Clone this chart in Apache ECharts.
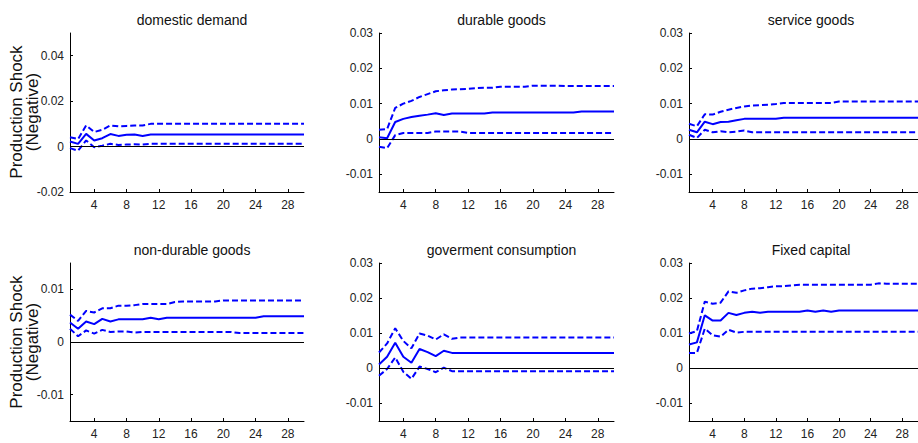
<!DOCTYPE html>
<html><head><meta charset="utf-8">
<script src="https://cdn.jsdelivr.net/npm/echarts@6/dist/echarts.min.js"></script>
<style>html,body{margin:0;padding:0;background:#fff}#c{width:918px;height:443px}</style>
</head><body><div id="c"></div>
<script>
const periods = [1,2,3,4,5,6,7,8,9,10,11,12,13,14,15,16,17,18,19,20,21,22,23,24,25,26,27,28,29,30];
const xTicks = [4,8,12,16,20,24,28];
const titles = ["domestic demand","durable goods","service goods","non-durable goods","goverment consumption","Fixed capital"];
const yLabel = "Production Shock\n(Negative)";

// domestic demand
const ddMid = [0.0022,0.0012,0.0056,0.0027,0.0037,0.0055,0.0047,0.0052,0.0053,0.0047,0.0053,0.0053,0.0053,0.0053,0.0053,0.0053,0.0053,0.0053,0.0053,0.0053,0.0053,0.0053,0.0053,0.0053,0.0053,0.0053,0.0053,0.0053,0.0053,0.0053];
const ddUp  = [0.0041,0.0033,0.0093,0.0064,0.0074,0.0093,0.0089,0.0091,0.0093,0.0093,0.0100,0.0100,0.0100,0.0100,0.0100,0.0100,0.0100,0.0100,0.0100,0.0100,0.0100,0.0100,0.0100,0.0100,0.0100,0.0100,0.0100,0.0100,0.0100,0.0100];
const ddLo  = [-0.0007,-0.0018,0.0027,-0.0003,0.0004,0.0012,0.0007,0.0009,0.0010,0.0009,0.0012,0.0012,0.0012,0.0012,0.0012,0.0012,0.0012,0.0012,0.0012,0.0012,0.0012,0.0012,0.0012,0.0012,0.0012,0.0012,0.0012,0.0012,0.0012,0.0012];
// durable goods
const duMid = [0.0005,0.0002,0.0048,0.0057,0.0062,0.0066,0.0069,0.0073,0.0068,0.0072,0.0072,0.0072,0.0072,0.0072,0.0075,0.0075,0.0075,0.0075,0.0075,0.0075,0.0075,0.0075,0.0075,0.0075,0.0075,0.0078,0.0078,0.0078,0.0078,0.0078];
const duUp  = [0.0026,0.0028,0.0088,0.0100,0.0108,0.0119,0.0127,0.0135,0.0138,0.0140,0.0141,0.0142,0.0144,0.0145,0.0145,0.0148,0.0148,0.0148,0.0148,0.0151,0.0151,0.0151,0.0151,0.0150,0.0150,0.0150,0.0150,0.0150,0.0150,0.0150];
const duLo  = [-0.0022,-0.0026,0.0011,0.0017,0.0017,0.0017,0.0017,0.0021,0.0021,0.0021,0.0021,0.0017,0.0017,0.0017,0.0017,0.0017,0.0017,0.0017,0.0017,0.0017,0.0017,0.0017,0.0017,0.0017,0.0017,0.0017,0.0017,0.0017,0.0017,0.0017];
// service goods
const svMid = [0.0026,0.0019,0.0049,0.0042,0.0048,0.0049,0.0053,0.0057,0.0057,0.0057,0.0057,0.0057,0.0060,0.0060,0.0060,0.0060,0.0060,0.0060,0.0060,0.0060,0.0060,0.0060,0.0060,0.0060,0.0060,0.0060,0.0060,0.0060,0.0060,0.0060];
const svUp  = [0.0043,0.0036,0.0070,0.0069,0.0077,0.0083,0.0088,0.0092,0.0095,0.0096,0.0097,0.0099,0.0102,0.0102,0.0102,0.0102,0.0102,0.0102,0.0102,0.0106,0.0106,0.0106,0.0106,0.0106,0.0106,0.0106,0.0106,0.0106,0.0106,0.0106];
const svLo  = [0.0012,0.0003,0.0026,0.0019,0.0022,0.0019,0.0021,0.0024,0.0019,0.0019,0.0019,0.0019,0.0019,0.0019,0.0019,0.0019,0.0019,0.0019,0.0019,0.0019,0.0019,0.0019,0.0019,0.0019,0.0019,0.0019,0.0019,0.0019,0.0019,0.0019];
// non-durable goods
const ndMid = [0.0037,0.0025,0.0039,0.0034,0.0044,0.0039,0.0043,0.0043,0.0043,0.0043,0.0046,0.0043,0.0046,0.0046,0.0046,0.0046,0.0046,0.0046,0.0046,0.0046,0.0046,0.0046,0.0046,0.0046,0.0049,0.0049,0.0049,0.0049,0.0049,0.0049];
const ndUp  = [0.0052,0.0040,0.0059,0.0056,0.0064,0.0064,0.0069,0.0069,0.0070,0.0072,0.0072,0.0072,0.0072,0.0076,0.0077,0.0077,0.0077,0.0077,0.0077,0.0079,0.0079,0.0079,0.0079,0.0079,0.0079,0.0079,0.0079,0.0079,0.0079,0.0079];
const ndLo  = [0.0025,0.0011,0.0022,0.0016,0.0023,0.0019,0.0020,0.0020,0.0018,0.0019,0.0019,0.0019,0.0019,0.0019,0.0019,0.0019,0.0019,0.0019,0.0019,0.0019,0.0019,0.0017,0.0017,0.0017,0.0017,0.0017,0.0017,0.0017,0.0017,0.0017];
// goverment consumption
const gcMid = [0.0011,0.0033,0.0073,0.0033,0.0016,0.0055,0.0046,0.0035,0.0050,0.0044,0.0044,0.0044,0.0044,0.0044,0.0044,0.0044,0.0044,0.0044,0.0044,0.0044,0.0044,0.0044,0.0044,0.0044,0.0044,0.0044,0.0044,0.0044,0.0044,0.0044];
const gcUp  = [0.0045,0.0071,0.0114,0.0078,0.0057,0.0099,0.0093,0.0082,0.0097,0.0084,0.0088,0.0088,0.0088,0.0088,0.0088,0.0088,0.0088,0.0088,0.0088,0.0088,0.0088,0.0088,0.0088,0.0088,0.0088,0.0088,0.0088,0.0088,0.0088,0.0088];
const gcLo  = [-0.0021,-0.0002,0.0031,-0.0010,-0.0030,0.0005,-0.0002,-0.0011,0.0002,-0.0008,-0.0008,-0.0008,-0.0008,-0.0008,-0.0008,-0.0008,-0.0008,-0.0008,-0.0008,-0.0008,-0.0008,-0.0008,-0.0008,-0.0008,-0.0008,-0.0008,-0.0008,-0.0008,-0.0008,-0.0008];
// Fixed capital
const fcMid = [0.0068,0.0074,0.0151,0.0136,0.0136,0.0158,0.0152,0.0158,0.0161,0.0158,0.0161,0.0161,0.0161,0.0161,0.0161,0.0165,0.0161,0.0165,0.0161,0.0165,0.0165,0.0165,0.0165,0.0165,0.0165,0.0165,0.0165,0.0165,0.0165,0.0165];
const fcUp  = [0.0099,0.0106,0.0190,0.0184,0.0187,0.0219,0.0215,0.0222,0.0227,0.0228,0.0231,0.0234,0.0234,0.0236,0.0238,0.0238,0.0238,0.0238,0.0238,0.0238,0.0238,0.0238,0.0238,0.0238,0.0242,0.0241,0.0241,0.0241,0.0241,0.0241];
const fcLo  = [0.0044,0.0044,0.0113,0.0094,0.0090,0.0110,0.0102,0.0104,0.0104,0.0104,0.0104,0.0104,0.0104,0.0104,0.0104,0.0104,0.0104,0.0104,0.0104,0.0104,0.0104,0.0104,0.0104,0.0104,0.0104,0.0104,0.0104,0.0104,0.0104,0.0104];

const yRanges = [[-0.02,0.05],[-0.015,0.03],[-0.015,0.03],[-0.015,0.015],[-0.015,0.03],[-0.015,0.03]];
const yTicks = [[-0.02,0,0.02,0.04],[-0.01,0,0.01,0.02,0.03],[-0.01,0,0.01,0.02,0.03],[-0.01,0,0.01],[-0.01,0,0.01,0.02,0.03],[-0.01,0,0.01,0.02,0.03]];
const panels = [[ddLo,ddMid,ddUp],[duLo,duMid,duUp],[svLo,svMid,svUp],[ndLo,ndMid,ndUp],[gcLo,gcMid,gcUp],[fcLo,fcMid,fcUp]];

const grids = [
  {left:70, top:33, width:234, height:159},
  {left:379,top:33, width:235, height:159},
  {left:689,top:33, width:234, height:159},
  {left:70, top:263,width:234, height:158},
  {left:379,top:263,width:235, height:158},
  {left:689,top:263,width:234, height:158}
];
const titleY = [8,8,8,238,238,238];
const fam = '"Liberation Sans",Arial,sans-serif';

const option = {
  animation:false,
  backgroundColor:'#fff',
  grid: grids.map(g=>Object.assign({containLabel:false},g)),
  title: titles.map((t,i)=>({text:t,left:grids[i].left+grids[i].width/2,top:titleY[i],textAlign:'center',
    textStyle:{fontFamily:fam,fontSize:14,fontWeight:'normal',color:'#111'}})),
  xAxis: grids.map((g,i)=>({type:'value',gridIndex:i,min:1,max:30,
    axisLine:{show:true,onZero:false,lineStyle:{color:'#000',width:1}},
    axisTick:{show:true,inside:true,length:3,customValues:xTicks,lineStyle:{color:'#000'}},
    axisLabel:{customValues:xTicks,margin:7,fontFamily:fam,fontSize:12,color:'#222'},
    splitLine:{show:false}})),
  yAxis: grids.map((g,i)=>({type:'value',gridIndex:i,min:yRanges[i][0],max:yRanges[i][1],
    axisLine:{show:true,onZero:false,lineStyle:{color:'#000',width:1}},
    axisTick:{show:true,inside:true,length:3,customValues:yTicks[i],lineStyle:{color:'#000'}},
    axisLabel:{customValues:yTicks[i],margin:6,fontFamily:fam,fontSize:12,color:'#222',formatter:v=>String(+v.toFixed(4))},
    splitLine:{show:false}})),
  series: [],
  graphic: [
    {type:'text',x:24,y:112,rotation:Math.PI/2,style:{text:yLabel,font:'17px "Liberation Sans",Arial,sans-serif',fill:'#111',align:'center',verticalAlign:'middle',lineHeight:16}},
    {type:'text',x:24,y:342,rotation:Math.PI/2,style:{text:yLabel,font:'17px "Liberation Sans",Arial,sans-serif',fill:'#111',align:'center',verticalAlign:'middle',lineHeight:16}}
  ]
};

panels.forEach((p,i)=>{
  const [lo,mid,up] = p;
  const mk = arr => periods.map((x,k)=>[x,arr[k]]);
  option.series.push({type:'line',xAxisIndex:i,yAxisIndex:i,data:mk(mid),symbol:'none',z:3,
    lineStyle:{color:'#0000ff',width:2,type:'solid'},
    markLine:{silent:true,symbol:'none',label:{show:false},lineStyle:{color:'#000',width:1,type:'solid'},data:[{yAxis:0}]}});
  option.series.push({type:'line',xAxisIndex:i,yAxisIndex:i,data:mk(up),symbol:'none',z:3,
    lineStyle:{color:'#0000ff',width:2,type:[6,3]}});
  option.series.push({type:'line',xAxisIndex:i,yAxisIndex:i,data:mk(lo),symbol:'none',z:3,
    lineStyle:{color:'#0000ff',width:2,type:[6,3]}});
});

const chart = echarts.init(document.getElementById('c'),null,{renderer:'svg'});
chart.setOption(option);
</script></body></html>
